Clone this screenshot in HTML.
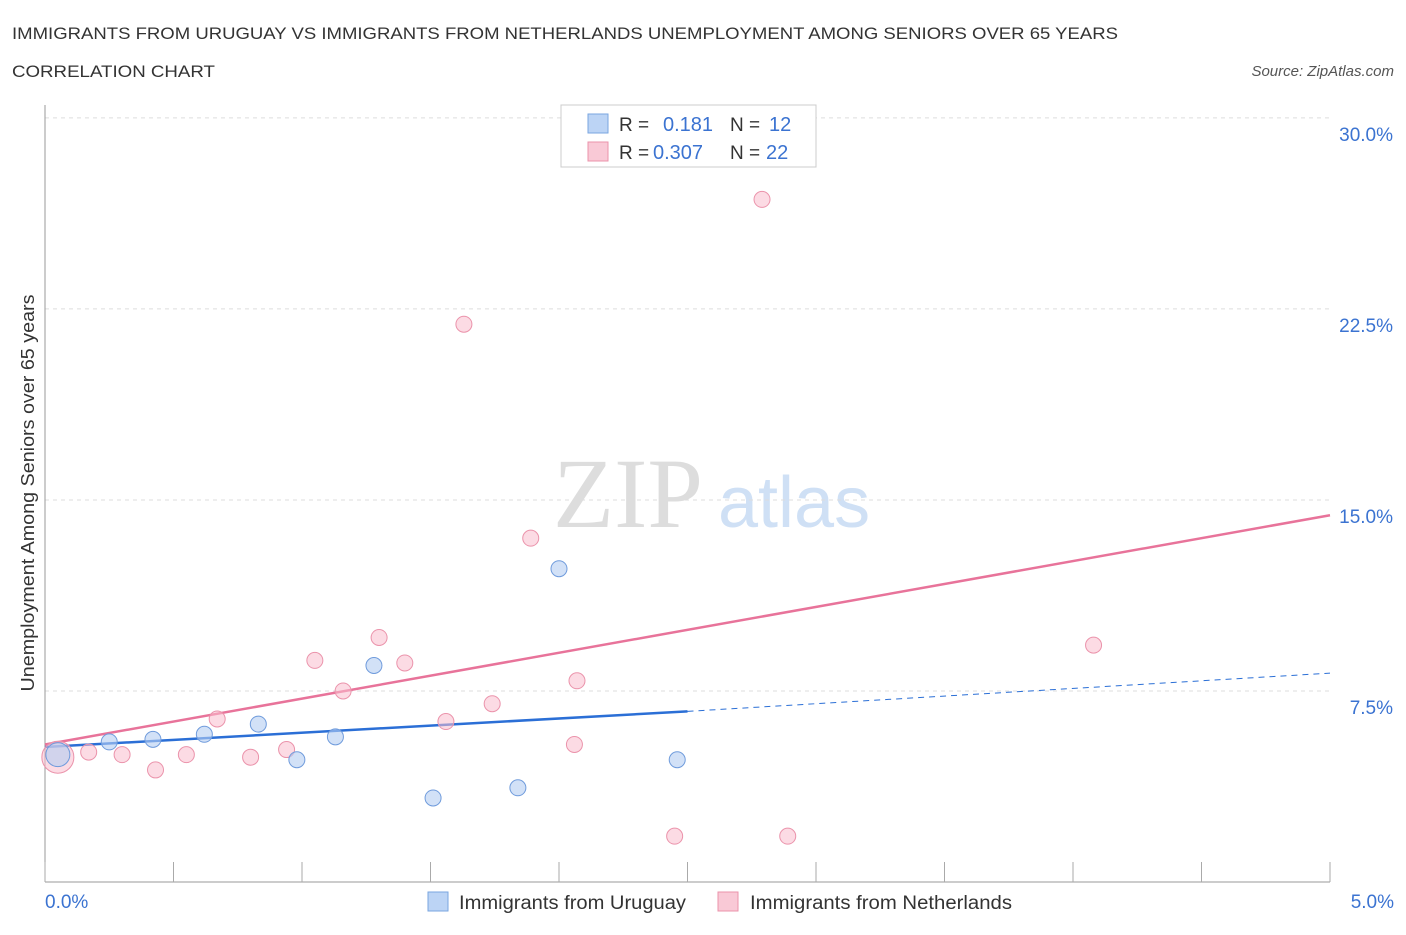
<!DOCTYPE html>
<html><head><meta charset="utf-8"><style>
body{margin:0;background:#fff;font-family:"Liberation Sans",sans-serif;}
</style></head><body>
<svg width="1406" height="930" xmlns="http://www.w3.org/2000/svg" font-family="Liberation Sans, sans-serif">
<text x="12" y="39" font-size="17" fill="#333" textLength="1106" lengthAdjust="spacingAndGlyphs">IMMIGRANTS FROM URUGUAY VS IMMIGRANTS FROM NETHERLANDS UNEMPLOYMENT AMONG SENIORS OVER 65 YEARS</text>
<text x="12" y="77" font-size="17" fill="#333" textLength="203" lengthAdjust="spacingAndGlyphs">CORRELATION CHART</text>
<text x="1394" y="76" font-size="15" fill="#555" text-anchor="end" font-style="italic">Source: ZipAtlas.com</text>
<text x="553" y="527" font-size="100" fill="#ddd" font-family="Liberation Serif, serif">ZIP</text>
<text x="718" y="527" font-size="72" fill="#cfe0f5">atlas</text>
<g id="grid"></g>
<line x1="45" y1="105" x2="45" y2="882" stroke="#999"/>
<line x1="45" y1="882" x2="1330" y2="882" stroke="#999"/>
<g id="ticks"></g>
<text transform="translate(34,493) rotate(-90)" font-size="18" fill="#333" text-anchor="middle" textLength="397" lengthAdjust="spacingAndGlyphs">Unemployment Among Seniors over 65 years</text>
<text x="45" y="908" font-size="19" fill="#3b73d1">0.0%</text>
<text x="1394" y="908" font-size="19" fill="#3b73d1" text-anchor="end">5.0%</text>
<g id="lines"></g>
<g id="points"></g>
<g>
<rect x="561" y="105" width="255" height="62" fill="#fff" stroke="#ccc"/>
<rect x="588" y="114" width="20" height="19" fill="#bcd4f5" stroke="#7aa6e0"/>
<rect x="588" y="142" width="20" height="19" fill="#f9c9d6" stroke="#eb93ab"/>
<text x="619" y="131" font-size="19" fill="#333">R =</text><text x="663" y="131" font-size="20" fill="#3b73d1">0.181</text>
<text x="730" y="131" font-size="19" fill="#333">N =</text><text x="769" y="131" font-size="20" fill="#3b73d1">12</text>
<text x="619" y="159" font-size="19" fill="#333">R =</text><text x="653" y="159" font-size="20" fill="#3b73d1">0.307</text>
<text x="730" y="159" font-size="19" fill="#333">N =</text><text x="766" y="159" font-size="20" fill="#3b73d1">22</text>
</g>
<g>
<rect x="428" y="892" width="20" height="19" fill="#bcd4f5" stroke="#7aa6e0"/>
<text x="459" y="909" font-size="19" fill="#333" textLength="227" lengthAdjust="spacingAndGlyphs">Immigrants from Uruguay</text>
<rect x="718" y="892" width="20" height="19" fill="#f9c9d6" stroke="#eb93ab"/>
<text x="750" y="909" font-size="19" fill="#333" textLength="262" lengthAdjust="spacingAndGlyphs">Immigrants from Netherlands</text>
</g>
</svg>
<script>
const yTicks=[7.5,15,22.5,30];
const yTickLabels=["7.5%","15.0%","22.5%","30.0%"];
const uruguayX=[0.05,0.25,0.42,0.62,0.83,0.98,1.13,1.28,1.51,1.84,2.00,2.46];
const uruguayY=[5.0,5.5,5.6,5.8,6.2,4.8,5.7,8.5,3.3,3.7,12.3,4.8];
const netherX=[0.05,0.17,0.30,0.43,0.55,0.67,0.80,0.94,1.05,1.16,1.30,1.40,1.56,1.63,1.74,1.89,2.06,2.07,2.45,2.79,2.89,4.08];
const netherY=[4.9,5.1,5.0,4.4,5.0,6.4,4.9,5.2,8.7,7.5,9.6,8.6,6.3,21.9,7.0,13.5,5.4,7.9,1.8,26.8,1.8,9.3];
const uruguayTrend=[5.3,6.7,8.2];
const netherTrend=[5.4,14.4];
const X=v=>45+v*257, Y=v=>882-v*25.47;
const ns="http://www.w3.org/2000/svg";
function mk(t,a,p){const e=document.createElementNS(ns,t);for(const k in a)e.setAttribute(k,a[k]);document.getElementById(p).appendChild(e);return e;}
yTicks.forEach((t,i)=>{
 const l=mk('line',{x1:45,x2:1330,y1:Y(t),y2:Y(t),stroke:'#ddd','stroke-dasharray':'4,4'},'grid');
 
 
 const tx=mk('text',{x:1393,y:Y(t)+23,'font-size':19,fill:'#3b73d1','text-anchor':'end'},'grid');
 tx.textContent=yTickLabels[i];
 
 
});
for(let i=0;i<=10;i++){
 const l=mk('line',{x1:X(i*0.5),x2:X(i*0.5),y1:862,y2:882,stroke:'#aaa'},'ticks');
 
 
}
let l=mk('line',{x1:X(0),y1:Y(uruguayTrend[0]),x2:X(2.5),y2:Y(uruguayTrend[1]),stroke:'#2b6fd6','stroke-width':2.5},'lines');


l=mk('line',{x1:X(2.5),y1:Y(uruguayTrend[1]),x2:X(5),y2:Y(uruguayTrend[2]),stroke:'#2b6fd6','stroke-width':1,'stroke-dasharray':'6,5'},'lines');


l=mk('line',{x1:X(0),y1:Y(netherTrend[0]),x2:X(5),y2:Y(netherTrend[1]),stroke:'#e8739a','stroke-width':2.5},'lines');


netherX.forEach((x,i)=>{
 const c=mk('circle',{cx:X(x),cy:Y(netherY[i]),r:i==0?16:8,fill:'rgba(249,190,206,0.55)',stroke:'#eb93ab','stroke-width':1},'points');
 
 
});
uruguayX.forEach((x,i)=>{
 const c=mk('circle',{cx:X(x),cy:Y(uruguayY[i]),r:i==0?12:8,fill:'rgba(180,205,242,0.6)',stroke:'#6f9bdc','stroke-width':1},'points');
 
 
});
</script>
</body></html>
